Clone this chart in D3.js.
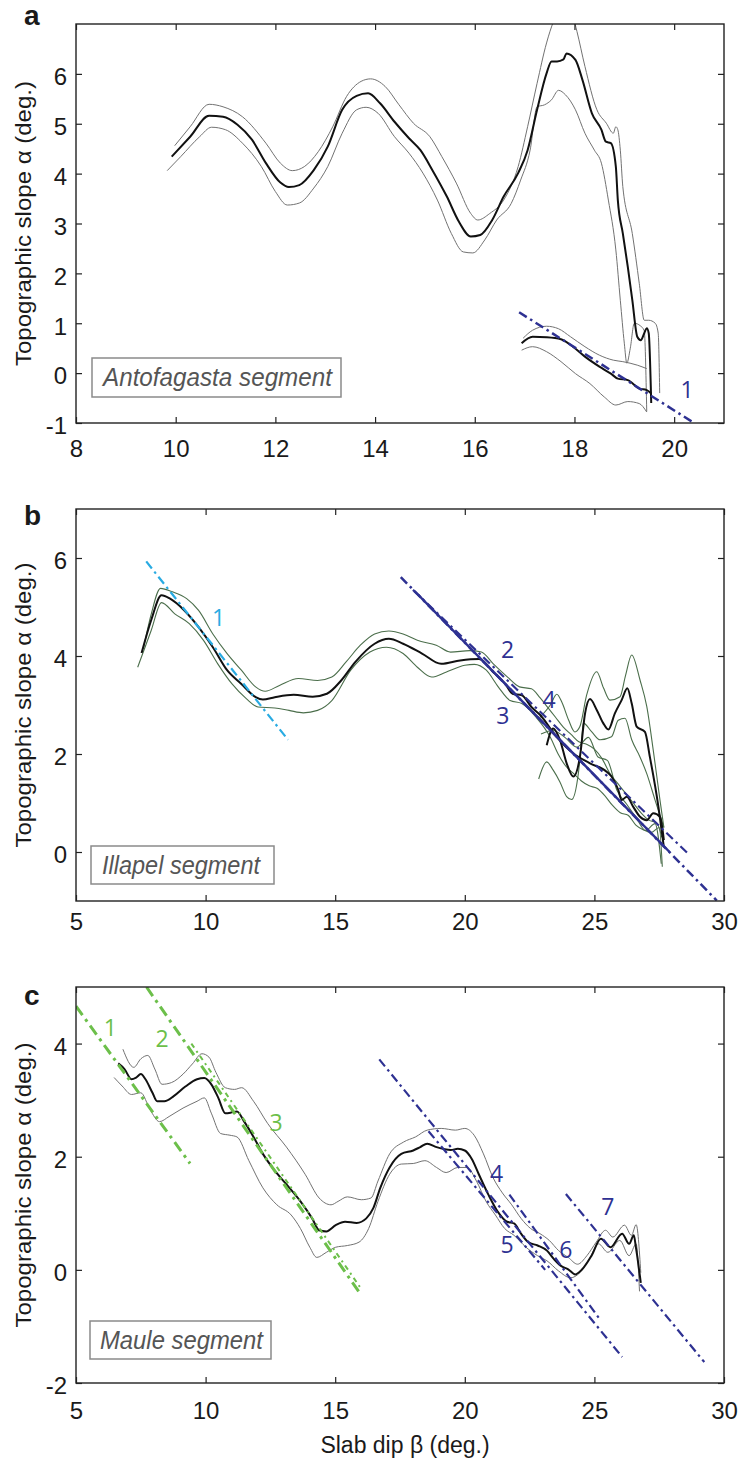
<!DOCTYPE html>
<html>
<head>
<meta charset="utf-8">
<script src="https://cdn.jsdelivr.net/npm/d3@7"></script>
<style>
body{margin:0;background:#fff;}
svg{display:block;font-family:"Liberation Sans",Arial,Helvetica,sans-serif;}
</style>
</head>
<body>
<div id="chart"></div>
<script>
// ---- panel a : Antofagasta ----
var antoMain = [[9.92,4.34],[10.29,4.74],[10.67,5.16],[10.95,5.14],[11.24,4.98],[11.53,4.68],[11.81,4.21],[12.1,3.82],[12.27,3.73],[12.48,3.77],[12.77,4.07],[13.05,4.54],[13.34,5.28],[13.63,5.56],[13.86,5.61],[14.1,5.41],[14.39,5.04],[14.68,4.71],[14.91,4.47],[15.15,4.07],[15.44,3.54],[15.68,3.04],[15.92,2.74],[16.11,2.77],[16.35,3.07],[16.58,3.54],[16.87,4.01],[17.06,4.47],[17.25,5.28],[17.44,6.01],[17.54,6.25],[17.65,6.25],[17.78,6.29],[17.84,6.41],[18.02,6.28],[18.16,5.88],[18.35,5.21],[18.54,4.88],[18.63,4.64],[18.73,4.61],[18.83,4.14],[18.87,3.47],[18.97,2.8],[19.07,2.13],[19.16,1.47],[19.26,0.73],[19.33,0.66],[19.4,0.8],[19.45,0.9],[19.49,0.8],[19.54,-0.6]];
var antoUpper = [[9.98,4.56],[10.29,4.94],[10.67,5.39],[10.95,5.34],[11.34,5.14],[11.81,4.61],[12.1,4.21],[12.34,4.06],[12.58,4.14],[12.86,4.44],[13.15,4.94],[13.43,5.55],[13.72,5.85],[13.91,5.9],[14.2,5.75],[14.48,5.38],[14.77,5.01],[15.1,4.74],[15.34,4.34],[15.63,3.81],[15.92,3.2],[16.06,3.07],[16.3,3.2],[16.58,3.47],[16.87,4.14],[17.06,4.94],[17.25,5.81],[17.44,6.62],[17.58,7.05],[17.72,7.3],[17.86,7.35],[17.97,7.15],[18.05,6.85],[18.21,6.15],[18.45,5.28],[18.64,5.01],[18.78,4.81],[18.83,4.94],[18.87,4.88],[18.92,4.47],[18.97,3.74],[19.16,2.8],[19.3,1.8],[19.4,1.06],[19.49,1.06],[19.62,1.0],[19.68,0.8],[19.71,-0.4]];
var antoLower = [[9.83,4.06],[10.1,4.34],[10.48,4.74],[10.72,4.93],[11.0,4.88],[11.34,4.61],[11.72,4.14],[12.0,3.64],[12.24,3.37],[12.48,3.41],[12.77,3.71],[13.05,4.14],[13.34,4.81],[13.63,5.28],[13.82,5.33],[14.06,5.21],[14.39,4.74],[14.68,4.41],[14.96,4.01],[15.25,3.47],[15.53,2.8],[15.77,2.43],[15.96,2.41],[16.2,2.67],[16.44,3.07],[16.73,3.4],[16.92,3.87],[17.11,4.47],[17.25,5.34],[17.4,5.38],[17.54,5.48],[17.68,5.67],[17.82,5.58],[18.02,5.28],[18.21,4.81],[18.4,4.47],[18.54,4.21],[18.68,3.47],[18.83,2.47],[18.92,1.46],[19.0,0.6],[19.05,0.2],[19.12,0.5],[19.2,1.0],[19.32,0.95],[19.4,0.85],[19.45,-0.77]];
var antoLowMain = [[16.94,0.6],[17.16,0.73],[17.44,0.72],[17.73,0.68],[17.97,0.53],[18.21,0.33],[18.5,0.13],[18.73,-0.01],[18.87,-0.11],[19.07,-0.14],[19.3,-0.31],[19.45,-0.34],[19.54,-0.41]];
var antoLowUpper = [[16.97,0.7],[17.16,0.86],[17.44,0.94],[17.68,0.89],[17.92,0.73],[18.21,0.53],[18.5,0.36],[18.78,0.26],[18.97,0.23],[19.26,0.16],[19.45,0.09]];
var antoLowLower = [[16.94,0.46],[17.16,0.53],[17.44,0.43],[17.73,0.23],[18.02,-0.01],[18.31,-0.21],[18.6,-0.48],[18.83,-0.64],[19.07,-0.57],[19.3,-0.61],[19.45,-0.78]];
var antoFit1 = [[16.89,1.22],[20.4,-1.0]];
var antoFitLabels = [{t:"1",x:20.26,y:-0.31}];

// ---- panel b : Illapel ----
var illaMain = [[7.53,4.06],[7.9,4.73],[8.3,5.24],[8.63,5.17],[9.18,4.93],[9.73,4.59],[10.28,4.18],[10.83,3.71],[11.38,3.43],[11.93,3.16],[12.21,3.11],[12.67,3.16],[13.4,3.21],[14.13,3.17],[14.68,3.23],[15.23,3.5],[15.78,3.88],[16.52,4.25],[17.07,4.35],[17.62,4.25],[18.35,4.05],[19.09,3.84],[19.82,3.91],[20.55,3.94],[21.1,3.67],[21.56,3.43],[21.84,3.23],[22.2,3.2],[22.57,2.96],[22.9,2.8],[23.54,2.35],[24.19,2.01],[24.83,1.81],[25.47,1.64],[25.66,1.54],[25.92,1.27],[26.05,1.06],[26.25,1.13],[26.5,0.92],[26.76,0.72],[27.02,0.65],[27.27,0.79],[27.53,0.72],[27.68,0.24]];
var illaBranch = [[23.16,2.18],[23.41,2.52],[23.67,2.29],[23.93,1.81],[24.19,1.54],[24.44,1.94],[24.64,2.83],[24.83,3.12],[25.09,2.9],[25.34,2.63],[25.54,2.5],[25.79,2.83],[26.05,3.1],[26.27,3.34],[26.44,3.03],[26.63,2.56],[26.95,2.45],[27.14,1.94],[27.47,0.92],[27.59,0.45],[27.68,0.1]];
var illaUpper = [[7.6,4.15],[7.9,4.85],[8.26,5.38],[8.72,5.31],[9.27,5.17],[9.73,4.93],[10.28,4.45],[10.83,4.05],[11.38,3.71],[11.93,3.37],[12.3,3.28],[12.85,3.4],[13.58,3.54],[14.32,3.5],[14.87,3.57],[15.42,3.88],[15.97,4.22],[16.52,4.45],[17.07,4.51],[17.62,4.45],[18.17,4.32],[18.9,4.22],[19.45,4.08],[20.19,4.11],[20.64,4.08],[21.1,3.84],[21.65,3.57],[22.11,3.37],[22.57,3.33],[22.9,3.15],[23.2,2.95],[23.5,2.75],[23.8,2.55],[24.1,2.4],[24.4,2.25],[24.7,2.2],[25.0,2.1],[25.3,1.9],[25.6,1.6],[25.9,1.4],[26.2,1.2],[26.5,1.0],[26.8,0.8],[27.1,0.65],[27.4,0.6],[27.6,0.3]];
var illaLower = [[7.38,3.77],[7.9,4.52],[8.3,5.09],[8.81,4.86],[9.37,4.66],[9.92,4.32],[10.47,3.84],[11.02,3.43],[11.57,3.13],[12.02,2.96],[12.67,2.94],[13.22,2.89],[13.77,2.84],[14.32,2.89],[14.87,3.09],[15.6,3.71],[16.34,4.08],[16.98,4.18],[17.62,4.05],[18.17,3.77],[18.72,3.57],[19.27,3.67],[20.0,3.81],[20.37,3.83],[20.83,3.71],[21.29,3.37],[21.75,3.09],[22.2,3.03],[22.75,2.75],[23.3,2.34],[23.6,2.0],[23.9,1.75],[24.2,1.6],[24.5,1.45],[24.8,1.35],[25.1,1.3],[25.4,1.15],[25.7,0.95],[26.0,0.8],[26.3,0.75],[26.6,0.55],[26.9,0.45],[27.2,0.4],[27.5,0.5],[27.62,-0.3]];
var illaG3 = [[22.9,2.75],[23.3,3.0],[23.55,3.22],[23.75,3.05],[24.0,2.7],[24.25,2.45],[24.44,2.56],[24.7,3.2],[25.09,3.68],[25.35,3.35],[25.6,3.1],[25.99,3.17],[26.2,3.6],[26.44,4.02],[26.76,3.51],[27.02,2.97],[27.27,2.08],[27.53,1.06],[27.68,0.5]];
var illaG4 = [[22.85,1.49],[23.16,1.84],[23.41,1.67],[23.67,1.43],[23.93,1.13],[24.12,1.07],[24.38,1.6],[24.51,2.29],[24.57,2.63],[24.9,2.45],[25.22,2.29],[25.66,2.35],[25.92,2.69],[26.18,2.73],[26.44,2.29],[26.75,1.95],[27.02,1.6],[27.34,1.06],[27.68,0.5]];
var illaG5 = [[22.94,2.41],[23.4,2.48],[23.86,2.34],[24.32,2.14],[24.77,2.34],[25.14,1.94],[25.5,1.87],[25.87,1.26],[26.24,0.98],[26.6,0.71],[26.97,0.44],[27.34,0.58],[27.58,-0.24]];
var illaFit1 = [[7.71,5.93],[13.18,2.29]];
var illaFit2 = [[17.53,5.61],[29.72,-0.99]];
var illaFit3 = [[18.2,5.25],[27.9,0.0]];
var illaFit4 = [[18.0,5.35],[28.65,-0.05]];
var illaFitLabels = [{t:"1",x:10.5,y:4.8,c:"cyan"},{t:"2",x:21.65,y:4.15},{t:"3",x:21.47,y:2.79},{t:"4",x:23.25,y:3.12}];

// ---- panel c : Maule ----
var mauleMain = [[6.63,3.65],[6.87,3.55],[7.14,3.37],[7.32,3.4],[7.5,3.46],[7.68,3.37],[7.95,3.13],[8.13,2.98],[8.41,2.98],[8.77,3.07],[9.22,3.24],[9.67,3.37],[9.95,3.39],[10.22,3.28],[10.49,3.04],[10.76,2.77],[10.98,2.78],[11.21,2.8],[11.49,2.62],[11.85,2.35],[12.21,2.05],[12.57,1.81],[13.12,1.51],[13.66,1.21],[14.11,0.91],[14.38,0.7],[14.66,0.68],[15.02,0.79],[15.38,0.85],[15.83,0.83],[16.2,0.91],[16.47,1.09],[16.74,1.45],[17.1,1.81],[17.55,2.05],[18.01,2.11],[18.28,2.17],[18.55,2.23],[18.91,2.17],[19.46,2.12],[19.73,2.14],[20.0,2.11],[20.27,1.96],[20.54,1.69],[20.91,1.33],[21.27,1.03],[21.63,0.85],[21.9,0.82],[22.17,0.64],[22.45,0.49],[22.81,0.43],[23.17,0.34],[23.44,0.19],[23.71,0.07],[23.99,0.01],[24.26,-0.08],[24.53,0.01],[24.89,0.25],[25.25,0.55],[25.62,0.4],[26.07,0.64],[26.34,0.46],[26.52,0.61],[26.61,0.37],[26.79,-0.23]];
var mauleUpper = [[6.81,3.9],[7.23,3.58],[7.5,3.73],[7.77,3.79],[8.04,3.55],[8.32,3.28],[8.68,3.31],[9.13,3.46],[9.49,3.64],[9.86,3.82],[10.13,3.76],[10.4,3.49],[10.76,3.22],[11.12,3.19],[11.39,3.22],[11.85,2.98],[12.39,2.59],[13.12,2.17],[13.84,1.69],[14.38,1.27],[14.84,1.15],[15.11,1.21],[15.47,1.29],[16.01,1.24],[16.38,1.27],[16.65,1.57],[17.1,2.05],[17.64,2.26],[18.1,2.35],[18.55,2.47],[19.09,2.5],[19.64,2.47],[20.0,2.5],[20.36,2.38],[20.72,2.05],[21.09,1.63],[21.45,1.36],[21.81,1.15],[22.17,0.91],[22.54,0.73],[22.9,0.64],[23.26,0.52],[23.62,0.34],[23.99,0.22],[24.35,0.1],[24.71,0.25],[25.07,0.49],[25.43,0.7],[25.71,0.58],[26.16,0.79],[26.43,0.61],[26.61,0.8],[26.79,-0.05]];
var mauleLower = [[6.47,3.4],[6.78,3.25],[7.14,3.1],[7.5,3.13],[7.86,2.83],[8.22,2.62],[8.59,2.71],[9.13,2.86],[9.67,2.98],[9.95,3.04],[10.22,2.77],[10.58,2.41],[10.94,2.38],[11.21,2.35],[11.67,1.93],[12.21,1.45],[12.75,1.15],[13.3,0.97],[13.66,0.73],[14.02,0.4],[14.29,0.22],[14.66,0.31],[15.02,0.4],[15.47,0.43],[15.92,0.49],[16.29,0.73],[16.65,1.21],[17.1,1.69],[17.55,1.87],[18.01,1.88],[18.46,1.93],[18.91,1.81],[19.28,1.72],[19.73,1.81],[20.09,1.81],[20.45,1.57],[20.82,1.21],[21.18,0.97],[21.54,0.73],[21.9,0.61],[22.36,0.4],[22.81,0.25],[23.17,0.16],[23.62,-0.02],[24.08,-0.14],[24.44,-0.05],[24.8,0.19],[25.16,0.46],[25.52,0.31],[25.98,0.52],[26.34,0.25],[26.61,0.46],[26.74,-0.38]];
var mauleFit1 = [[5.0,4.66],[9.4,1.88]];
var mauleFit2 = [[7.72,5.0],[15.98,-0.43]];
var mauleFit3 = [[9.45,4.0],[15.95,-0.3]];
var mauleFit4 = [[16.7,3.72],[26.07,-1.54]];
var mauleFit5 = [[18.6,2.45],[23.1,0.0]];
var mauleFit6 = [[21.72,1.33],[25.25,-0.9]];
var mauleFit7 = [[23.9,1.34],[29.24,-1.63]];
var mauleFitLabels = [{t:"1",x:6.32,y:4.3,c:"green"},{t:"2",x:8.32,y:4.1,c:"green"},{t:"3",x:12.72,y:2.62,c:"green"},{t:"4",x:21.23,y:1.72},{t:"5",x:21.63,y:0.46},{t:"6",x:23.9,y:0.37},{t:"7",x:25.52,y:1.12}];

var aXTicks = [8,10,12,14,16,18,20];
var aYTicks = [-1,0,1,2,3,4,5,6];
var bXTicks = [5,10,15,20,25,30];
var bYTicks = [0,2,4,6];
var cXTicks = [5,10,15,20,25,30];
var cYTicks = [-2,0,2,4];

var colors = {navy:"#2e3192", cyan:"#29abe2", green:"#6cbf4a", black:"#111", gray:"#727272", dkgreen:"#4b6e4b"};
var dashDot = "9,4,2.5,4";
var plain = function(d){ return String(d); };   // "-1", not the unicode minus

var svg = d3.select("#chart").append("svg")
    .attr("width",746).attr("height",1462);
svg.append("rect").attr("width",746).attr("height",1462).attr("fill","#fff");

function drawPanel(p){
    var x = d3.scaleLinear().domain(p.xDom).range([76,724]);
    var y = d3.scaleLinear().domain(p.yDom).range([p.bottom,p.top]);
    var g = svg.append("g");

    g.append("clipPath").attr("id","clip-"+p.id)
        .append("rect").attr("x",76).attr("y",p.top).attr("width",648).attr("height",p.bottom-p.top);

    var plot = g.append("g").attr("clip-path","url(#clip-"+p.id+")");
    var line = d3.line().x(function(d){return x(d[0]);}).y(function(d){return y(d[1]);})
        .curve(d3.curveMonotoneX);
    var straight = d3.line().x(function(d){return x(d[0]);}).y(function(d){return y(d[1]);});

    p.curves.forEach(function(c){
        plot.append("path").attr("d",line(c.data))
            .attr("fill","none").attr("stroke",c.color).attr("stroke-width",c.w)
            .attr("stroke-linejoin","round");
    });
    p.fits.forEach(function(f){
        plot.append("path").attr("d",straight(f.data))
            .attr("fill","none").attr("stroke",f.color).attr("stroke-width",f.w)
            .attr("stroke-dasharray",f.dash);
    });
    p.fitLabels.forEach(function(l){
        g.append("text").attr("x",x(l.x)).attr("y",y(l.y))
            .attr("text-anchor","middle").attr("dominant-baseline","central")
            .attr("font-family","'Open Sans','Noto Sans',sans-serif").attr("font-size",23)
            .attr("fill",colors[l.c || "navy"]).text(l.t);
    });

    // axes, ticks point inward on all four sides
    var axB = g.append("g").attr("transform","translate(0,"+p.bottom+")")
        .call(d3.axisBottom(x).tickValues(p.xTicks).tickFormat(plain).tickSizeInner(-6).tickSizeOuter(0).tickPadding(p.xPad));
    var axT = g.append("g").attr("transform","translate(0,"+p.top+")")
        .call(d3.axisTop(x).tickValues(p.xTicks).tickSizeInner(-6).tickSizeOuter(0).tickFormat(""));
    var axL = g.append("g").attr("transform","translate(76,0)")
        .call(d3.axisLeft(y).tickValues(p.yTicks).tickFormat(plain).tickSizeInner(-6).tickSizeOuter(0).tickPadding(9));
    var axR = g.append("g").attr("transform","translate(724,0)")
        .call(d3.axisRight(y).tickValues(p.yTicks).tickSizeInner(-6).tickSizeOuter(0).tickFormat(""));
    [axB,axT,axL,axR].forEach(function(a){
        a.select(".domain").remove();
        a.selectAll("line").attr("stroke","#222").attr("stroke-width",1.2);
        a.selectAll("text").attr("font-size",24).attr("fill","#1a1a1a")
            .attr("font-family","'Liberation Sans',Arial,sans-serif");
    });
    axL.selectAll("text").attr("dy","0.45em");

    g.append("rect").attr("x",76).attr("y",p.top).attr("width",648).attr("height",p.bottom-p.top)
        .attr("fill","none").attr("stroke","#222").attr("stroke-width",1.4);

    // segment name box
    g.append("rect").attr("x",p.box[0]).attr("y",p.box[1]).attr("width",p.box[2]).attr("height",p.box[3])
        .attr("fill","#fff").attr("stroke","#8a8a8a").attr("stroke-width",1.5);
    g.append("text").attr("x",p.boxText[0]).attr("y",p.boxText[1])
        .attr("font-size",25).attr("font-style","italic").attr("fill","#555")
        .attr("textLength",p.boxText[2]).attr("lengthAdjust","spacingAndGlyphs")
        .text(p.name);

    g.append("text").attr("transform","translate(31,"+((p.top+p.bottom)/2)+") rotate(-90)")
        .attr("text-anchor","middle").attr("font-size",22).attr("fill","#1a1a1a")
        .attr("textLength",285).attr("lengthAdjust","spacingAndGlyphs")
        .text("Topographic slope \u03b1 (deg.)");

    g.append("text").attr("x",24).attr("y",p.letterY)
        .attr("font-size",28).attr("font-weight","bold").attr("fill","#1a1a1a")
        .text(p.id);
}

drawPanel({id:"a", xDom:[8,21], yDom:[-1,7], top:24, bottom:423, xTicks:aXTicks, yTicks:aYTicks, xPad:17,
    letterY:25, name:"Antofagasta segment", box:[92,358,249,39], boxText:[103,386,229],
    curves:[
        {data:antoUpper,color:colors.gray,w:1},{data:antoLower,color:colors.gray,w:1},
        {data:antoLowUpper,color:colors.gray,w:1},{data:antoLowLower,color:colors.gray,w:1},
        {data:antoMain,color:colors.black,w:2},{data:antoLowMain,color:colors.black,w:2}],
    fits:[{data:antoFit1,color:colors.navy,w:2.5,dash:dashDot}],
    fitLabels:antoFitLabels});

drawPanel({id:"b", xDom:[5,30], yDom:[-1,7], top:509, bottom:901, xTicks:bXTicks, yTicks:bYTicks, xPad:12,
    letterY:525, name:"Illapel segment", box:[91,846,183,38], boxText:[102,874,158],
    curves:[
        {data:illaUpper,color:colors.dkgreen,w:1.1},{data:illaLower,color:colors.dkgreen,w:1.1},
        {data:illaG3,color:colors.dkgreen,w:1.1},{data:illaG4,color:colors.dkgreen,w:1.1},
        {data:illaG5,color:colors.dkgreen,w:1.1},
        {data:illaMain,color:colors.black,w:2},{data:illaBranch,color:colors.black,w:2}],
    fits:[
        {data:illaFit1,color:colors.cyan,w:2.2,dash:dashDot},
        {data:illaFit3,color:colors.navy,w:2.5,dash:null},
        {data:illaFit2,color:colors.navy,w:2.5,dash:dashDot},
        {data:illaFit4,color:colors.navy,w:2.2,dash:dashDot}],
    fitLabels:illaFitLabels});

drawPanel({id:"c", xDom:[5,30], yDom:[-2,5], top:987, bottom:1383, xTicks:cXTicks, yTicks:cYTicks, xPad:19,
    letterY:1005, name:"Maule segment", box:[90,1321,181,38], boxText:[100,1349,163],
    curves:[
        {data:mauleUpper,color:colors.gray,w:1},{data:mauleLower,color:colors.gray,w:1},
        {data:mauleMain,color:colors.black,w:2}],
    fits:[
        {data:mauleFit1,color:colors.green,w:3,dash:"11,5,3,5"},
        {data:mauleFit2,color:colors.green,w:3,dash:"11,5,3,5"},
        {data:mauleFit3,color:colors.green,w:2,dash:"5,4,2,4"},
        {data:mauleFit4,color:colors.navy,w:2.2,dash:dashDot},
        {data:mauleFit5,color:colors.navy,w:2.2,dash:dashDot},
        {data:mauleFit6,color:colors.navy,w:2.2,dash:dashDot},
        {data:mauleFit7,color:colors.navy,w:2.2,dash:dashDot}],
    fitLabels:mauleFitLabels});

svg.append("text").attr("x",405).attr("y",1453).attr("text-anchor","middle")
    .attr("font-size",23).attr("fill","#1a1a1a")
    .text("Slab dip \u03b2 (deg.)");
</script>
</body>
</html>
